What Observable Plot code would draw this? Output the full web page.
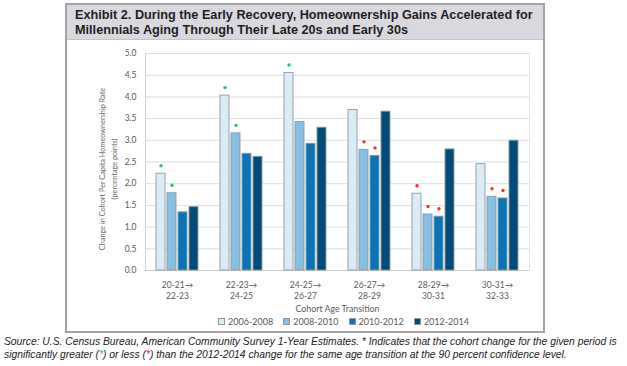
<!DOCTYPE html>
<html>
<head>
<meta charset="utf-8">
<script src="https://cdn.jsdelivr.net/npm/d3@7"></script>
<script src="https://cdn.jsdelivr.net/npm/@observablehq/plot@0.6"></script>
<style>
  html, body { margin: 0; padding: 0; background: #fff; width: 627px; height: 366px; overflow: hidden; }
  .box { position: absolute; left: 65px; top: 3px; width: 476px; height: 326px; border: 2px solid #a3a3a3; background: #fff; }
  .title { background: #d9d8de; height: 35px; padding: 3px 0 0 8px; box-sizing: border-box; font-family: "Liberation Sans", Arial, sans-serif; font-weight: bold; font-size: 12.7px; line-height: 14.5px; color: #1e1e1e; border-bottom: 1px solid #c4c4c8; }
  #chart { position: absolute; left: 0; top: 36px; }
  .legend { position: absolute; left: 0; top: 311px; width: 476px; display: flex; justify-content: flex-start; padding-left: 151px; box-sizing: border-box; font-family: Lato, sans-serif; font-size: 9px; color: #595959; }
  .legend span.item { display: flex; align-items: center; width: 65.3px; }
  .legend span.sw { display: inline-block; width: 7px; height: 7px; margin-right: 3px; border: 1px solid #8e9aa5; box-sizing: border-box; }
  .caption { position: absolute; left: 4px; top: 335px; font-family: "Liberation Sans", Arial, sans-serif; font-style: italic; font-size: 10.3px; line-height: 13px; color: #222; white-space: nowrap; }
</style>
</head>
<body>
<div class="box">
  <div class="title">Exhibit 2. During the Early Recovery, Homeownership Gains Accelerated for<br>Millennials Aging Through Their Late 20s and Early 30s</div>
  <div id="chart"></div>
  <div class="legend" id="legend"></div>
</div>
<div class="caption">Source: U.S. Census Bureau, American Community Survey 1-Year Estimates. * Indicates that the cohort change for the given period is<br>significantly greater (<span style="color:#1fc47a">*</span>) or less (<span style="color:#ff2a2a">*</span>) than the 2012-2014 change for the same age transition at the 90 percent confidence level.</div>
<script>
const groups = ["20-21→22-23", "22-23→24-25", "24-25→26-27", "26-27→28-29", "28-29→30-31", "30-31→32-33"];
const periods = ["2006-2008", "2008-2010", "2010-2012", "2012-2014"];
const v2006_2008 = [2.23, 4.03, 4.55, 3.70, 1.77, 2.45];
const v2008_2010 = [1.78, 3.16, 3.42, 2.78, 1.29, 1.70];
const v2010_2012 = [1.34, 2.69, 2.92, 2.64, 1.24, 1.66];
const v2012_2014 = [1.46, 2.62, 3.29, 3.66, 2.79, 2.99];
// significance markers: "g" greater, "r" less, "" none
const s2006_2008 = ["g", "g", "g", "", "r", ""];
const s2008_2010 = ["g", "g", "", "r", "r", "r"];
const s2010_2012 = ["", "", "", "r", "r", "r"];
const s2012_2014 = ["", "", "", "", "", ""];
const colors = ["#dcecf7", "#85c0e4", "#0b74b4", "#024d78"];
const sigColors = {g: "#1fc47a", r: "#ff2a2a"};
const yTicks = [0, 0.5, 1, 1.5, 2, 2.5, 3, 3.5, 4, 4.5, 5];
const yLabel = "Change in Cohort Per Capita Homeownership Rate\n(percentage points)";
const xLabel = "Cohort Age Transition";

const valueSets = [v2006_2008, v2008_2010, v2010_2012, v2012_2014];
const sigSets = [s2006_2008, s2008_2010, s2010_2012, s2012_2014];
const data = [];
groups.forEach((g, i) => periods.forEach((p, j) => data.push({group: g, period: p, value: valueSets[j][i], sig: sigSets[j][i]})));
const sigData = data.filter(d => d.sig);

const font = "Lato, sans-serif";
const plot = Plot.plot({
  width: 476,
  height: 274,
  marginLeft: 76,
  marginRight: 12,
  marginTop: 12,
  marginBottom: 45,
  style: {fontFamily: font, fontSize: "8.5px", color: "#595959", background: "transparent"},
  fx: {domain: groups, padding: 0},
  x: {domain: periods, axis: null, paddingInner: 0.15, paddingOuter: 0.84},
  y: {domain: [0, 5]},
  color: {domain: periods, range: colors},
  marks: [
    Plot.gridY(yTicks, {stroke: "#dedede", strokeOpacity: 1}),
    Plot.frame({anchor: "left", facetAnchor: "left", stroke: "#d4d4d4"}),
    Plot.frame({anchor: "right", facetAnchor: "right", stroke: "#e4e4e4"}),
    Plot.ruleY([0], {stroke: "#c8c8c8"}),
    Plot.barY(data, {fx: "group", x: "period", y: "value", fill: "period", stroke: "#8d99a4", strokeWidth: 0.9}),
    Plot.dot(sigData, {fx: "group", x: "period", y: "value", dy: -8, r: 1.7, fill: d => sigColors[d.sig], stroke: null}),
    Plot.axisY(yTicks, {tickSize: 0, tickPadding: 9, tickFormat: d3.format(".1f"), label: null, fontSize: 8.5, fill: "#595959"}),
    Plot.text([{g: groups[0]}], {fx: "g", frameAnchor: "left", textAnchor: "middle", text: () => yLabel, rotate: -90, dx: -38, dy: 7, fontSize: 7.3, fill: "#6a6a6a", lineHeight: 1.65}),
    Plot.axisFx({anchor: "bottom", tickSize: 0, tickPadding: 10, tickFormat: d => d.replace("→", "→\n"), lineHeight: 1.3, label: null, fontSize: 8.5, fill: "#595959"}),
    Plot.text([{g: groups[2], v: 0}], {fx: "g", y: "v", frameAnchor: "right", textAnchor: "middle", lineAnchor: "middle", text: () => xLabel, dy: 39, fontSize: 8.8, fill: "#595959"})
  ]
});
document.getElementById("chart").appendChild(plot);

const legend = document.getElementById("legend");
periods.forEach((p, j) => {
  const item = document.createElement("span");
  item.className = "item";
  const sw = document.createElement("span");
  sw.className = "sw";
  sw.style.background = colors[j];
  item.appendChild(sw);
  item.appendChild(document.createTextNode(p));
  legend.appendChild(item);
});
</script>
</body>
</html>
